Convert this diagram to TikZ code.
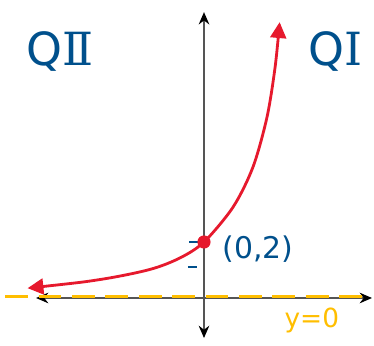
\documentclass[tikz,border=0pt]{standalone}
\usepackage{fontspec}
\setmainfont{DejaVu Sans}
\newfontfamily\numfont{DejaVu Serif}
\usepackage{xcolor}
\definecolor{graphred}{RGB}{230,25,45}
\definecolor{labelblue}{RGB}{0,80,140}
\definecolor{asymyellow}{RGB}{255,190,0}
\definecolor{axisgray}{RGB}{85,85,85}
\usetikzlibrary{arrows.meta,positioning}

\begin{document}
\begin{tikzpicture}[
  x=0.56cm,y=0.56cm,
  axis/.style={{Stealth[length=7pt,width=6pt,black]}-{Stealth[length=7pt,width=6pt,black]},
    line width=1.1pt,color=axisgray},
  asym/.style={line width=1.7pt,color=asymyellow,dash pattern=on 13pt off 6pt},
  curve/.style={{Triangle[length=9pt,width=9pt]}-{Triangle[length=9pt,width=9pt]},
    line width=1.6pt,color=graphred},
  dot/.style={circle,fill=graphred,inner sep=0pt,minimum size=7.5pt},
  tick/.style={line width=1.3pt,color=labelblue},
  quad/.style={font=\fontsize{26}{30}\selectfont,color=labelblue},
  lbl/.style={font=\fontsize{17}{20}\selectfont,color=labelblue}
]
  \useasboundingbox (-7.286,-1.714) rectangle (6.071,10.643);
  % axes
  \coordinate (xl) at (-6.0,0);
  \coordinate (xr) at (6.0,0);
  \coordinate (yb) at (0,-1.43);
  \coordinate (yt) at (0,10.21);
  \draw[axis] (xl) -- (xr);
  \draw[axis] (yb) -- (yt);
  % asymptote
  \coordinate (al) at (-7.1,0.07);
  \coordinate (ar) at (5.9,0.07);
  \draw[asym] (al) -- (ar);
  \node[font=\fontsize{15}{17}\selectfont,color=asymyellow] (yzero) at (3.85,-0.8) {y=0};
  % ticks
  \draw[tick] (-0.52,2) -- (-0.22,2);
  \draw[tick] (-0.58,1.1) -- (-0.25,1.1);
  % graph
  \draw[curve] plot[smooth] coordinates {(-6.3,0.35) (-3.71,0.66) (-1.93,1.02)
    (-0.86,1.43) (0,2) (1.04,3.25) (1.75,4.68) (2.25,6.46) (2.54,8.25) (2.7,9.85)};
  \node[dot] (p) at (0,2) {};
  \node[lbl,right=3pt of p,yshift=-4pt] (plbl) {(0,2)};
  % quadrants
  \node[quad] (qtwo) at (-5.14,8.79) {Q{\numfont Ⅱ}};
  \node[quad] (qone) at (4.68,8.79) {Q{\numfont Ⅰ}};
\end{tikzpicture}
\end{document}
